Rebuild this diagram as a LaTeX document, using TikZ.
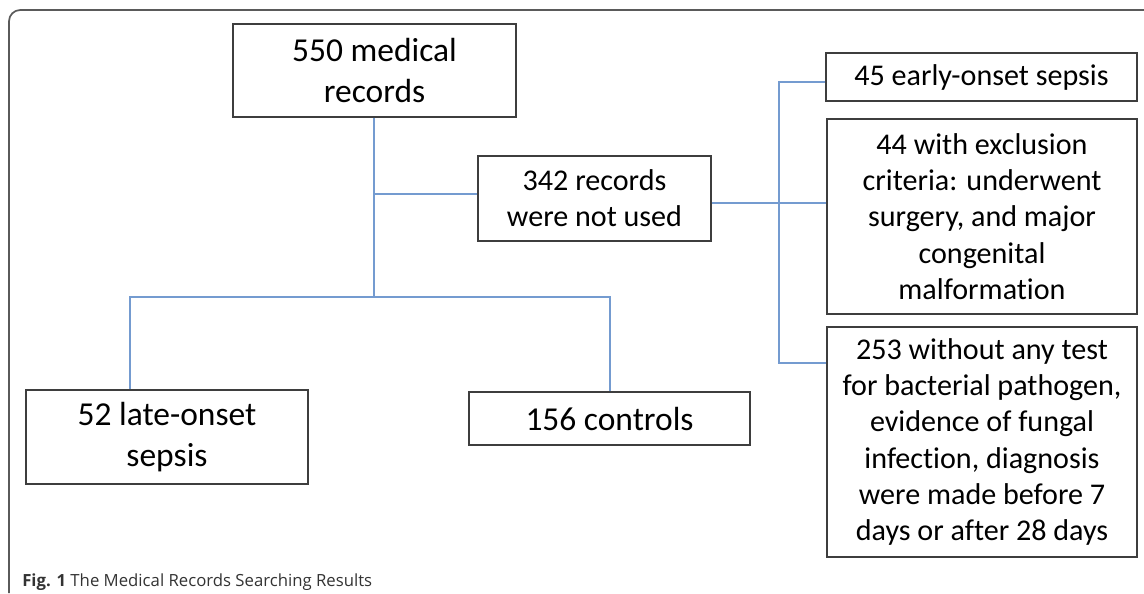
\documentclass[tikz,border=0pt]{standalone}
\usepackage{fontspec}
\usepackage{xcolor}
\usepackage{tikz}
\setmainfont{Carlito}[Ligatures=NoCommon]
\newfontfamily\capfont{Open Sans}
\definecolor{linkblue}{RGB}{116,155,208}
\definecolor{boxgray}{RGB}{62,62,62}
\definecolor{framegray}{RGB}{90,90,90}
\tikzstyle{recbox} = [rectangle, draw=boxgray, line width=1.3pt, align=center, text centered, inner sep=2pt, font=\fontsize{21.4}{25.8}\selectfont]
\tikzstyle{bigbox} = [recbox, font=\fontsize{23.8}{28.6}\selectfont]
\tikzstyle{link} = [draw=linkblue, line width=1.3pt]
\tikzstyle{frame} = [draw=framegray, line width=1.2pt, rounded corners=8]

\begin{document}
\begin{tikzpicture}[x=0.025cm, y=-0.025cm]
		\useasboundingbox (0,0) rectangle (1144,593);
		\draw [frame] (1144,10) -- (9,10) -- (9,593);
		
		\node (rec550) [bigbox, minimum width=7.075cm, minimum height=2.325cm] at (374.5,70.5) {550 medical\\records};
		\node (rec342) [recbox, minimum width=5.825cm, minimum height=2.125cm] at (594.5,198.5) {342 records\\were not used};
		\node (early) [recbox, minimum width=7.775cm, minimum height=1.2cm] at (981.5,77) {45 early-onset sepsis};
		\node (excl) [recbox, minimum width=7.75cm, minimum height=4.875cm] at (982,216.5) {44 with exclusion\\criteria: underwent\\surgery, and major\\congenital\\malformation};
		\node (notest) [recbox, minimum width=7.75cm, minimum height=5.75cm] at (982,442) {253 without any test\\for bacterial pathogen,\\evidence of fungal\\infection, diagnosis\\were made before 7\\days or after 28 days};
		\node (late) [bigbox, minimum width=7.05cm, minimum height=2.35cm] at (167,437) {52 late-onset\\sepsis};
		\node (ctrl) [bigbox, minimum width=7.025cm, minimum height=1.325cm] at (609.5,418.5) {156 controls};
		
		\coordinate (unused) at (374,194);
		\coordinate (fork) at (374,297);
		\coordinate (lft) at (130,297);
		\coordinate (rgt) at (610,297);
		\coordinate (split) at (779,203);
		\coordinate (spltop) at (779,82);
		\coordinate (splbot) at (779,363);
		
		\draw [link] (rec550.south -| fork) -- (fork);
		\draw [link] (unused) -- (unused -| rec342.west);
		\draw [link] (lft |- late.north) -- (lft) -- (rgt) -- (rgt |- ctrl.north);
		\draw [link] (split -| rec342.east) -- (split -| excl.west);
		\draw [link] (spltop -| early.west) -- (spltop) -- (splbot) -- (splbot -| notest.west);
		
		\node (caption) [anchor=base west, inner sep=0pt, text=black!80, font=\capfont\fontsize{11.9}{14}\selectfont] at (22,586) {\textbf{Fig. 1} The Medical Records Searching Results};
	\end{tikzpicture}
\end{document}
